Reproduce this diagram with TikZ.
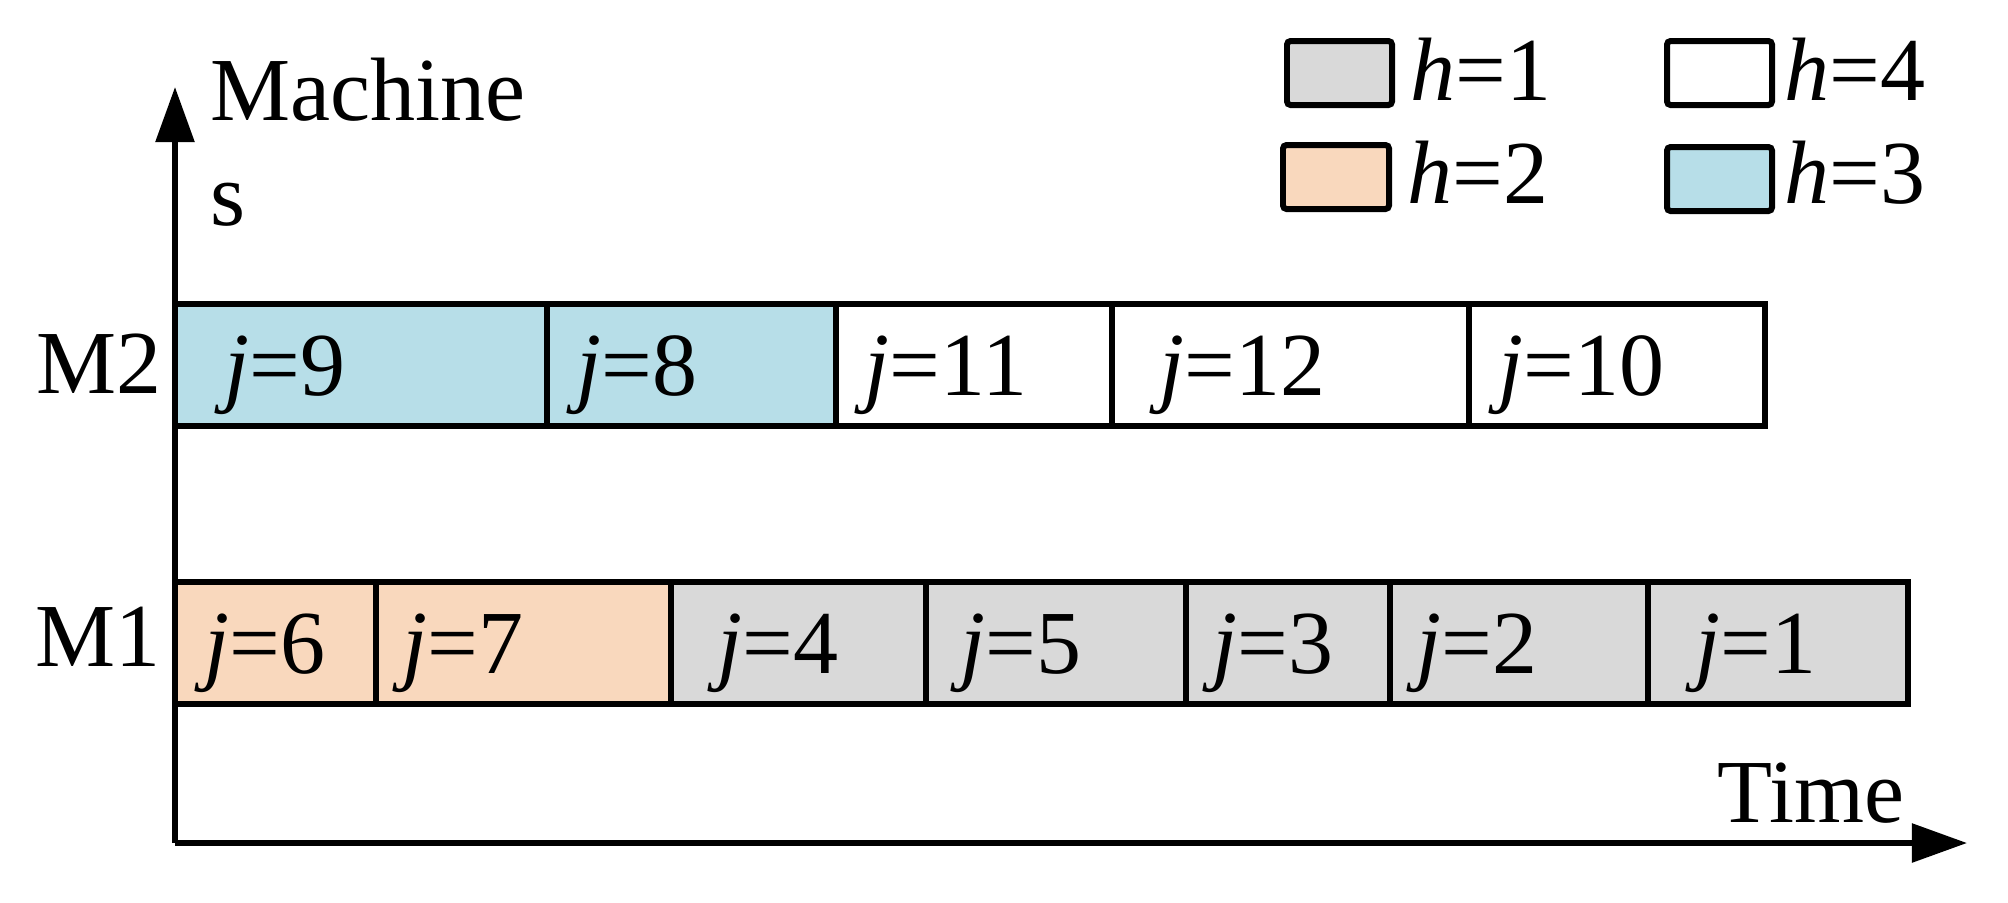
\documentclass[tikz,border=0pt]{standalone}
\usepackage{fontspec}
\setmainfont{Liberation Serif}
\usetikzlibrary{arrows.meta}
\definecolor{hone}{HTML}{D9D9D9}
\definecolor{htwo}{HTML}{F9D8BD}
\definecolor{hthree}{HTML}{B7DEE8}
\tikzset{
  bar/.style={draw=black, line width=1.7pt},
  lab/.style={inner sep=0pt, anchor=base west, font=\fontsize{25.6}{30}\selectfont},
  axis/.style={line width=1.6pt, -{Triangle[length=0.55cm,width=0.38cm]}},
  legbox/.style={draw=black, line width=1.7pt, rounded corners=1pt}
}
\begin{document}
\begin{tikzpicture}[x=0.01cm,y=-0.01cm]
\useasboundingbox (0,0) rectangle (2008,902);
% axes
\coordinate (o) at (175,843);
\coordinate (ytip) at (175,87);
\coordinate (xtip) at (1967,843);
\draw[axis] (o) -- (ytip);
\draw[axis] (o) -- (xtip);
\node[lab] (ylab1) at (210,120) {Machine};
\node[lab] (ylab2) at (210,225) {s};
\node[lab] (xlab) at (1717,822) {Time};
% M2 row
\draw[bar, fill=hthree] (175,304) rectangle (547,426);
\draw[bar, fill=hthree] (547,304) rectangle (836,426);
\draw[bar, fill=white] (836,304) rectangle (1112,426);
\draw[bar, fill=white] (1112,304) rectangle (1469,426);
\draw[bar, fill=white] (1469,304) rectangle (1765,426);
\node[lab] (m2) at (36,393) {M2};
\node[lab] (j9) at (224,395) {\textit{j}=9};
\node[lab] (j8) at (576,395) {\textit{j}=8};
\node[lab] (j11) at (864,395) {\textit{j}=11};
\node[lab] (j12) at (1159,395) {\textit{j}=12};
\node[lab] (j10) at (1498,395) {\textit{j}=10};
% M1 row
\draw[bar, fill=htwo] (175,582) rectangle (376,704);
\draw[bar, fill=htwo] (376,582) rectangle (671,704);
\draw[bar, fill=hone] (671,582) rectangle (926,704);
\draw[bar, fill=hone] (926,582) rectangle (1186,704);
\draw[bar, fill=hone] (1186,582) rectangle (1390,704);
\draw[bar, fill=hone] (1390,582) rectangle (1648,704);
\draw[bar, fill=hone] (1648,582) rectangle (1908,704);
\node[lab] (m1) at (35,666) {M1};
\node[lab] (j6) at (204,673) {\textit{j}=6};
\node[lab] (j7) at (402,673) {\textit{j}=7};
\node[lab] (j4) at (717,673) {\textit{j}=4};
\node[lab] (j5) at (960,673) {\textit{j}=5};
\node[lab] (j3) at (1212,673) {\textit{j}=3};
\node[lab] (j2) at (1416,673) {\textit{j}=2};
\node[lab] (j1) at (1695,673) {\textit{j}=1};
% legend
\draw[legbox, fill=hone] (1287,41) rectangle (1392,105);
\draw[legbox, fill=white] (1667,41) rectangle (1772,105);
\draw[legbox, fill=htwo] (1283,145) rectangle (1389,209);
\draw[legbox, fill=hthree] (1667,147) rectangle (1772,211);
\node[lab] (h1) at (1410,100) {\textit{h}=1};
\node[lab] (h4) at (1784,100) {\textit{h}=4};
\node[lab] (h2) at (1407,203) {\textit{h}=2};
\node[lab] (h3) at (1784,203) {\textit{h}=3};
\end{tikzpicture}
\end{document}
